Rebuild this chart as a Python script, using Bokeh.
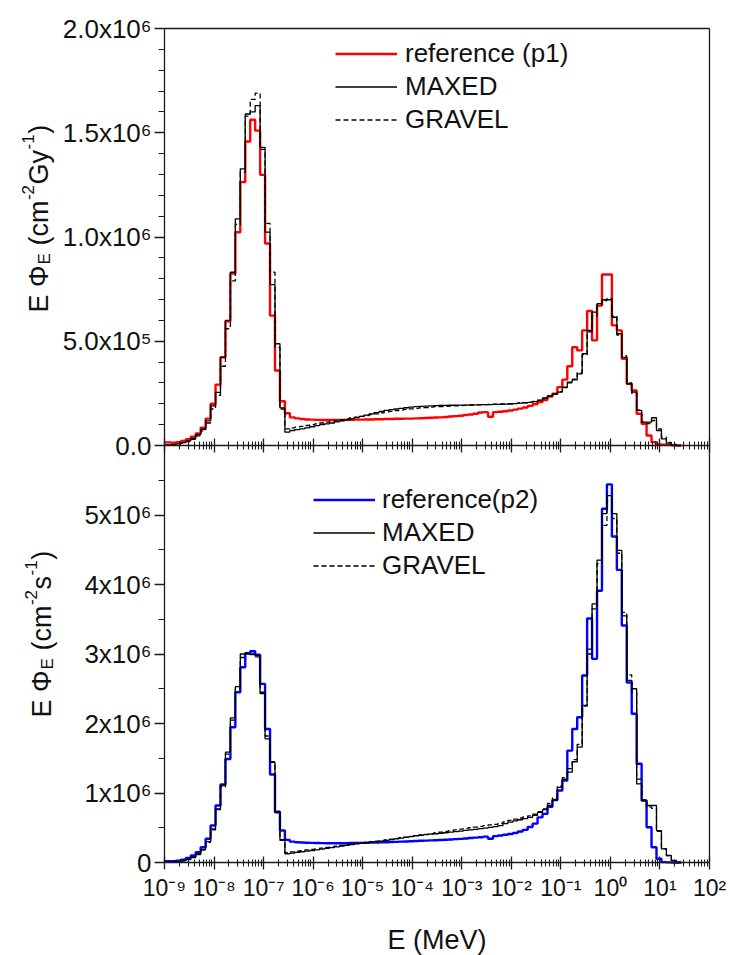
import math
from bokeh.plotting import figure
from bokeh.models import (FixedTicker, Range1d, Label, Legend, LegendItem,
                          LogAxis, LinearAxis, LogScale)
from bokeh.embed import file_html
from bokeh.resources import INLINE

# ---------------- data ----------------
# lethargy bins: 10 per decade, log10(E/MeV) of the bin edges
LOG_EDGES = [-9.0] + [round(-8.97 + 0.1 * i, 2) for i in range(1, 105)]

# top panel: E*Phi_E (cm^-2 Gy^-1)
REF_P1 = [15e3, 14e3, 16e3, 22e3, 30e3, 42e3, 58e3, 85e3, 129e3, 200e3,
          292e3, 423e3, 596e3, 825e3, 1023e3, 1263e3, 1458e3, 1562e3, 1510e3, 1298e3,
          969e3, 623e3, 360e3, 212e3, 155e3, 135e3, 130e3, 127e3, 125e3, 124e3,
          123e3, 122e3, 122e3, 122e3, 122e3, 122e3, 123e3, 123e3, 124e3, 124e3,
          125e3, 125e3, 126e3, 126e3, 127e3, 127e3, 128e3, 128e3, 129e3, 129e3,
          130e3, 131e3, 132e3, 133e3, 134e3, 135e3, 137e3, 139e3, 141e3, 143e3,
          146e3, 149e3, 152e3, 158e3, 160e3, 138e3, 160e3, 162e3, 164e3, 168e3,
          172e3, 177e3, 182e3, 190e3, 198e3, 208e3, 218e3, 235e3, 248e3, 280e3,
          316e3, 380e3, 471e3, 456e3, 552e3, 645e3, 504e3, 671e3, 820e3, 820e3,
          576e3, 552e3, 416e3, 296e3, 264e3, 152e3, 104e3, 48e3, 16e3, 5e3,
          4e3, 3e3, 1e3, 0.0]
MAXED_P1 = [3e3, 5e3, 8e3, 14e3, 22e3, 34e3, 52e3, 78e3, 118e3, 190e3,
            255e3, 423e3, 600e3, 831e3, 1087e3, 1327e3, 1590e3, 1600e3, 1630e3, 1430e3,
            1023e3, 772e3, 488e3, 180e3, 64e3, 72e3, 76e3, 80e3, 85e3, 90e3,
            95e3, 100e3, 104e3, 108e3, 113e3, 118e3, 123e3, 128e3, 134e3, 140e3,
            146e3, 152e3, 158e3, 163e3, 168e3, 172e3, 175e3, 178e3, 181e3, 184e3,
            186e3, 188e3, 189e3, 190e3, 191e3, 192e3, 192e3, 193e3, 193e3, 194e3,
            194e3, 195e3, 195e3, 196e3, 196e3, 196e3, 197e3, 197e3, 198e3, 199e3,
            201e3, 203e3, 205e3, 207e3, 210e3, 218e3, 228e3, 238e3, 248e3, 256e3,
            280e3, 304e3, 315e3, 344e3, 440e3, 552e3, 640e3, 680e3, 699e3, 699e3,
            615e3, 536e3, 423e3, 296e3, 256e3, 168e3, 112e3, 112e3, 133e3, 72e3,
            32e3, 11e3, 3e3, 0.0]
GRAVEL_P1 = [2e3, 4e3, 7e3, 12e3, 19e3, 30e3, 46e3, 70e3, 108e3, 175e3,
             240e3, 380e3, 560e3, 790e3, 1060e3, 1310e3, 1580e3, 1660e3, 1690e3, 1420e3,
             1065e3, 831e3, 471e3, 175e3, 80e3, 85e3, 88e3, 92e3, 96e3, 100e3,
             104e3, 108e3, 112e3, 116e3, 120e3, 124e3, 128e3, 132e3, 136e3, 140e3,
             144e3, 148e3, 152e3, 156e3, 160e3, 164e3, 167e3, 170e3, 173e3, 176e3,
             178e3, 180e3, 182e3, 184e3, 186e3, 187e3, 188e3, 189e3, 190e3, 191e3,
             192e3, 193e3, 194e3, 195e3, 196e3, 197e3, 198e3, 199e3, 200e3, 201e3,
             202e3, 204e3, 206e3, 208e3, 211e3, 216e3, 226e3, 236e3, 246e3, 258e3,
             278e3, 300e3, 318e3, 350e3, 435e3, 545e3, 620e3, 675e3, 695e3, 705e3,
             620e3, 530e3, 430e3, 300e3, 250e3, 170e3, 112e3, 105e3, 120e3, 80e3,
             40e3, 15e3, 5e3, 0.0]

# bottom panel: E*Phi_E (cm^-2 s^-1)
REF_P2 = [19e3, 20e3, 25e3, 40e3, 65e3, 101e3, 148e3, 220e3, 341e3, 532e3,
          820e3, 1122e3, 1490e3, 1947e3, 2450e3, 2810e3, 3010e3, 3040e3, 2990e3, 2570e3,
          1920e3, 1266e3, 724e3, 460e3, 326e3, 300e3, 292e3, 288e3, 285e3, 282e3,
          280e3, 279e3, 278e3, 278e3, 278e3, 278e3, 279e3, 280e3, 281e3, 282e3,
          284e3, 286e3, 288e3, 290e3, 292e3, 294e3, 297e3, 300e3, 303e3, 306e3,
          309e3, 312e3, 315e3, 318e3, 321e3, 324e3, 328e3, 332e3, 336e3, 340e3,
          345e3, 352e3, 358e3, 364e3, 372e3, 341e3, 380e3, 388e3, 400e3, 410e3,
          425e3, 445e3, 470e3, 510e3, 560e3, 650e3, 700e3, 800e3, 900e3, 1036e3,
          1180e3, 1610e3, 1920e3, 2090e3, 2690e3, 3510e3, 2930e3, 3910e3, 5090e3, 5440e3,
          4690e3, 4210e3, 3410e3, 2590e3, 2140e3, 1420e3, 892e3, 508e3, 220e3, 53e3,
          5e3, 2e3, 0.0, 0.0]
MAXED_P2 = [5e3, 8e3, 12e3, 25e3, 45e3, 80e3, 125e3, 190e3, 300e3, 485e3,
            773e3, 1108e3, 1587e3, 2080e3, 2530e3, 3000e3, 3000e3, 2990e3, 2980e3, 2430e3,
            1780e3, 1440e3, 720e3, 330e3, 125e3, 135e3, 145e3, 155e3, 164e3, 173e3,
            182e3, 193e3, 204e3, 215e3, 226e3, 237e3, 248e3, 259e3, 267e3, 275e3,
            284e3, 292e3, 300e3, 308e3, 317e3, 328e3, 340e3, 351e3, 362e3, 373e3,
            385e3, 392e3, 400e3, 407e3, 414e3, 421e3, 428e3, 436e3, 444e3, 452e3,
            461e3, 469e3, 477e3, 486e3, 494e3, 504e3, 515e3, 530e3, 560e3, 580e3,
            600e3, 615e3, 630e3, 650e3, 680e3, 720e3, 760e3, 820e3, 900e3, 1080e3,
            1200e3, 1300e3, 1450e3, 1660e3, 2260e3, 3070e3, 3720e3, 4350e3, 5020e3, 5280e3,
            5020e3, 4490e3, 3550e3, 2620e3, 2500e3, 1130e3, 892e3, 820e3, 820e3, 460e3,
            197e3, 101e3, 29e3, 0.0]
GRAVEL_P2 = [5e3, 8e3, 12e3, 22e3, 40e3, 72e3, 115e3, 180e3, 290e3, 470e3,
             760e3, 1090e3, 1560e3, 2050e3, 2500e3, 2950e3, 3020e3, 3000e3, 2960e3, 2450e3,
             1820e3, 1450e3, 740e3, 320e3, 140e3, 152e3, 162e3, 172e3, 181e3, 189e3,
             197e3, 207e3, 217e3, 227e3, 237e3, 247e3, 257e3, 267e3, 275e3, 283e3,
             291e3, 299e3, 307e3, 316e3, 326e3, 336e3, 346e3, 356e3, 366e3, 376e3,
             386e3, 396e3, 406e3, 416e3, 426e3, 436e3, 448e3, 460e3, 470e3, 480e3,
             490e3, 500e3, 510e3, 520e3, 530e3, 540e3, 550e3, 565e3, 585e3, 605e3,
             625e3, 640e3, 655e3, 672e3, 695e3, 730e3, 770e3, 850e3, 930e3, 1100e3,
             1220e3, 1350e3, 1480e3, 1700e3, 2250e3, 3000e3, 3650e3, 4300e3, 4850e3, 5200e3,
             4950e3, 4450e3, 3600e3, 2700e3, 2450e3, 1200e3, 900e3, 800e3, 780e3, 450e3,
             200e3, 100e3, 30e3, 0.0]

X_TICKS = [1e-9, 1e-8, 1e-7, 1e-6, 1e-5, 1e-4, 1e-3, 1e-2, 1e-1, 1e0, 1e1, 1e2]
X_TICK_LABELS = ["10⁻⁹", "10⁻⁸", "10⁻⁷", "10⁻⁶", "10⁻⁵", "10⁻⁴", "10⁻³",
                 "10⁻²", "10⁻¹", "10⁰", "10¹", "10²"]
TOP_Y_TICKS = [0.0, 5e5, 1e6, 1.5e6, 2e6]
TOP_Y_LABELS = ["0.0", "5.0x10⁵", "1.0x10⁶", "1.5x10⁶", "2.0x10⁶"]
BOT_Y_TICKS = [0.0, 1e6, 2e6, 3e6, 4e6, 5e6]
BOT_Y_LABELS = ["0", "1x10⁶", "2x10⁶", "3x10⁶", "4x10⁶", "5x10⁶"]
X_LABEL = "E (MeV)"

X_MINOR = [m * 10.0 ** k for k in range(-9, 2) for m in range(2, 10)]
TOP_MINOR = [k * 1e5 for k in range(1, 20) if k % 5]
BOT_MINOR = [k * 5e5 for k in range(1, 12, 2)]

# ---------------- layout (page pixels) ----------------
W, H = 730, 955
BOX_L, BOX_R = 164, 709             # data box left / right
BOX_T, BOX_M, BOX_B = 28, 445, 862  # top, middle divider, bottom
X_MIN, X_MAX = 1e-9, 1e2
TOP_MAX, BOT_MAX = 2e6, 6e6

dec_px = (BOX_R - BOX_L) / (math.log10(X_MAX) - math.log10(X_MIN))
x_lo = 10 ** (math.log10(X_MIN) - BOX_L / dec_px)
x_hi = 10 ** (math.log10(X_MAX) + (W - BOX_R) / dec_px)
bot_per_px = BOT_MAX / (BOX_B - BOX_M)
top_per_px = TOP_MAX / (BOX_M - BOX_T)

FONT = "Liberation Sans"
AX = "#1a1a1a"
TXT = "#111111"

p = figure(width=W, height=H, x_axis_location=None, y_axis_location=None,
           x_axis_type="log",
           x_range=Range1d(x_lo, x_hi),
           y_range=Range1d(-(H - BOX_B) * bot_per_px, BOX_B * bot_per_px),
           output_backend="svg", toolbar_location=None,
           min_border_left=0, min_border_right=0,
           min_border_top=0, min_border_bottom=0)
p.x_scale = LogScale()
p.extra_y_ranges = {"top": Range1d(-(H - BOX_M) * top_per_px, BOX_M * top_per_px)}
p.grid.visible = False
p.outline_line_color = None
p.background_fill_color = "white"
p.border_fill_color = "white"


def style(ax, size="26px"):
    ax.axis_line_color = AX
    ax.axis_line_width = 1.3
    ax.major_tick_line_color = AX
    ax.major_tick_line_width = 1.3
    ax.minor_tick_line_color = AX
    ax.minor_tick_line_width = 1.1
    ax.major_label_text_font = FONT
    ax.major_label_text_font_size = size
    ax.major_label_text_color = TXT


x_ticker = FixedTicker(ticks=X_TICKS, minor_ticks=X_MINOR)

# bottom x axis with labels
xa = LogAxis(fixed_location=0.0, bounds=(X_MIN, X_MAX), ticker=x_ticker,
             major_label_overrides=dict(zip(X_TICKS, X_TICK_LABELS)))
style(xa, "23px")
xa.major_tick_in, xa.major_tick_out = 6, 7
xa.minor_tick_in, xa.minor_tick_out = 3, 4
xa.major_label_standoff = 5
xa.axis_label = X_LABEL
xa.axis_label_text_font = FONT
xa.axis_label_text_font_size = "27px"
xa.axis_label_text_font_style = "normal"
xa.axis_label_text_color = TXT
xa.axis_label_standoff = 21
p.add_layout(xa, "below")

# middle axis separating both panels
mid = LogAxis(fixed_location=BOT_MAX, bounds=(X_MIN, X_MAX), ticker=x_ticker,
              major_label_overrides={t: "" for t in X_TICKS})
style(mid, "0px")
mid.major_tick_in, mid.major_tick_out = 7, 7
mid.minor_tick_in, mid.minor_tick_out = 4, 4
p.add_layout(mid, "below")

# top border and right border (lines only)
top_border = LogAxis(fixed_location=2 * BOT_MAX, bounds=(X_MIN, X_MAX),
                     ticker=FixedTicker(ticks=[]), major_tick_in=0,
                     major_tick_out=0, minor_tick_in=0, minor_tick_out=0)
style(top_border, "0px")
p.add_layout(top_border, "above")
right_border = LinearAxis(fixed_location=X_MAX, bounds=(0.0, 2 * BOT_MAX),
                          ticker=FixedTicker(ticks=[]), major_tick_in=0,
                          major_tick_out=0, minor_tick_in=0, minor_tick_out=0)
style(right_border, "0px")
p.add_layout(right_border, "right")

# left axis of the bottom panel
ya = LinearAxis(fixed_location=X_MIN, bounds=(0.0, BOT_MAX),
                ticker=FixedTicker(ticks=BOT_Y_TICKS, minor_ticks=BOT_MINOR),
                major_label_overrides=dict(zip(BOT_Y_TICKS, BOT_Y_LABELS)))
style(ya)
ya.major_tick_in, ya.major_tick_out = 0, 10
ya.minor_tick_in, ya.minor_tick_out = 0, 6
ya.major_label_standoff = 3
p.add_layout(ya, "left")

# left axis of the top panel
yt = LinearAxis(y_range_name="top", fixed_location=X_MIN, bounds=(0.0, TOP_MAX),
                ticker=FixedTicker(ticks=TOP_Y_TICKS, minor_ticks=TOP_MINOR),
                major_label_overrides=dict(zip(TOP_Y_TICKS, TOP_Y_LABELS)))
style(yt)
yt.major_tick_in, yt.major_tick_out = 0, 10
yt.minor_tick_in, yt.minor_tick_out = 0, 6
yt.major_label_standoff = 3
p.add_layout(yt, "left")

# ---------------- curves ----------------
x_edges = [10.0 ** v for v in LOG_EDGES]


def stair(vals):
    return list(vals) + [vals[-1]]


r_p1 = p.step(x_edges, stair(REF_P1), mode="after", line_color="#ff0000",
              line_width=2.4, y_range_name="top")
r_g1 = p.step(x_edges, stair(GRAVEL_P1), mode="after", line_color="black",
              line_width=1.3, line_dash="5 3", y_range_name="top")
r_m1 = p.step(x_edges, stair(MAXED_P1), mode="after", line_color="black",
              line_width=1.3, y_range_name="top")

r_p2 = p.step(x_edges, stair(REF_P2), mode="after", line_color="#0000ff",
              line_width=2.4)
r_g2 = p.step(x_edges, stair(GRAVEL_P2), mode="after", line_color="black",
              line_width=1.3, line_dash="5 3")
r_m2 = p.step(x_edges, stair(MAXED_P2), mode="after", line_color="black",
              line_width=1.3)


def make_legend(items, left, bottom, standoff):
    leg = Legend(items=items, location=(left, H - bottom), orientation="vertical")
    leg.glyph_width = 62
    leg.glyph_height = 33
    leg.label_height = 33
    leg.label_standoff = standoff
    leg.spacing = 0
    leg.padding = 0
    leg.margin = 0
    leg.border_line_alpha = 0
    leg.background_fill_alpha = 0
    leg.label_text_font = FONT
    leg.label_text_font_size = "26px"
    leg.label_text_color = TXT
    p.add_layout(leg)


make_legend([LegendItem(label="reference (p1)", renderers=[r_p1]),
             LegendItem(label="MAXED", renderers=[r_m1]),
             LegendItem(label="GRAVEL", renderers=[r_g1])], 335, 136, 8)
make_legend([LegendItem(label="reference(p2)", renderers=[r_p2]),
             LegendItem(label="MAXED", renderers=[r_m2]),
             LegendItem(label="GRAVEL", renderers=[r_g2])], 313, 582, 7)

# ---------------- rotated y titles with sub/superscripts ----------------
WIDTH = {"E": 0.667, " ": 0.278, "Φ": 0.78, "(": 0.333, ")": 0.333, "c": 0.5,
         "m": 0.833, "-": 0.333, "2": 0.556, "1": 0.556, "G": 0.778, "y": 0.5,
         "s": 0.5}
MAIN, SMALL = 27, 17


def add_title(pieces, start_y, base_x):
    """pieces: (text, kind, gap_before_px); text is drawn bottom-to-top."""
    y = start_y
    for text, kind, gap in pieces:
        y -= gap
        size = MAIN if kind == "n" else SMALL
        bx = base_x + (6 if kind == "sub" else (-11 if kind == "sup" else 0))
        p.add_layout(Label(x=bx, y=H - y, x_units="screen", y_units="screen",
                           text=text, angle=math.pi / 2,
                           text_font=FONT, text_font_size=f"{size}px",
                           text_align="left", text_baseline="alphabetic",
                           text_color=TXT))
        y -= sum(WIDTH[c] for c in text) * size


SP = WIDTH[" "] * MAIN
add_title([("E Φ", "n", 0), ("E", "sub", 1.5), ("(cm", "n", SP),
           ("-2", "sup", 0.5), ("Gy", "n", 0.5), ("-1", "sup", 0.5),
           (")", "n", 0.5)], 312, 38)
add_title([("E Φ", "n", 0), ("E", "sub", 1.5), ("(cm", "n", SP),
           ("-2", "sup", 0.5), ("s", "n", 0.5), ("-1", "sup", 0.5),
           (")", "n", 0.5)], 717, 41)

open("out.html", "w").write(file_html(p, INLINE))
